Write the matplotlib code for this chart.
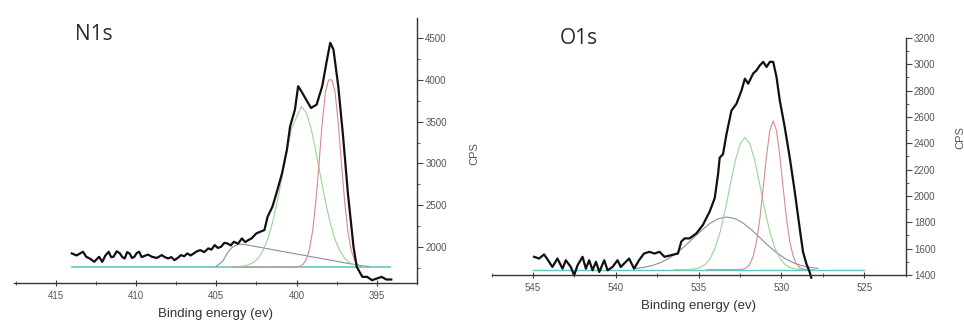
import numpy as np
import matplotlib
matplotlib.use('Agg')
import matplotlib.pyplot as plt
from matplotlib.ticker import MultipleLocator

plt.rcParams['font.family'] = ['Liberation Sans', 'DejaVu Sans']

# ---- N1s data ----
n1s_x = [414.0, 413.7, 413.3, 413.1, 412.85, 412.6, 412.3, 412.1, 411.9, 411.7,
         411.55, 411.4, 411.2, 411.0, 410.85, 410.7, 410.55, 410.4, 410.25, 410.1,
         409.95, 409.8, 409.65, 409.5, 409.25, 409.0, 408.7, 408.4, 408.2, 408.0,
         407.8, 407.6, 407.4, 407.2, 407.0, 406.8, 406.6, 406.4, 406.2, 406.0,
         405.75, 405.5, 405.3, 405.1, 404.9, 404.7, 404.5, 404.3, 404.1, 403.9,
         403.65, 403.4, 403.2, 403.0, 402.8, 402.5, 402.0, 401.8, 401.5, 401.25,
         400.9, 400.6, 400.4, 400.1, 399.9, 399.7, 399.4, 399.1, 398.75, 398.4,
         398.1, 397.9, 397.7, 397.4, 397.1, 396.8, 396.45, 396.25, 395.9, 395.6,
         395.3, 395.0, 394.7, 394.4, 394.1]
n1s_y = [1924, 1900, 1944, 1884, 1860, 1824, 1884, 1824, 1900, 1944,
         1880, 1884, 1950, 1924, 1880, 1864, 1940, 1924, 1870, 1884,
         1930, 1944, 1880, 1892, 1910, 1884, 1870, 1904, 1880, 1864,
         1880, 1844, 1870, 1904, 1890, 1924, 1900, 1924, 1950, 1964,
         1940, 1984, 1970, 2024, 1990, 2004, 2050, 2044, 2020, 2064,
         2040, 2104, 2060, 2084, 2104, 2164, 2204, 2364, 2484, 2644,
         2884, 3164, 3444, 3644, 3924, 3864, 3764, 3664, 3704, 3924,
         4244, 4444, 4364, 3924, 3324, 2644, 2004, 1764, 1644, 1644,
         1604, 1624, 1644, 1612, 1612]

n1s_base_x = [414.0, 394.2]
n1s_base_y = [1760, 1760]

n1s_red_x = [404.0, 400.0, 399.8, 399.6, 399.4, 399.2, 399.0, 398.8, 398.6, 398.4,
             398.2, 398.0, 397.8, 397.6, 397.4, 397.2, 397.0, 396.8, 396.6,
             396.4, 396.2, 396.0]
n1s_red_y = [1760, 1763, 1770, 1792, 1848, 1967, 2188, 2537, 2996, 3480,
             3857, 4000, 4000, 3857, 3480, 2996, 2537, 2188, 1967,
             1848, 1792, 1770]

n1s_green_x = [404.5, 403.7, 403.2, 402.7, 402.4, 402.1, 401.8, 401.5, 401.2, 400.9,
               400.6, 400.3, 399.7, 399.4, 399.1, 398.8, 398.5, 398.2, 397.9,
               397.6, 397.3, 397.0, 396.7, 396.2, 395.7]
n1s_green_y = [1760, 1762, 1775, 1813, 1865, 1954, 2091, 2288, 2544, 2841,
               3150, 3424, 3680, 3612, 3424, 3150, 2841, 2544, 2288,
               2091, 1954, 1865, 1813, 1775, 1762]

n1s_gray_x = [405.0, 404.6, 404.3, 404.0, 403.6, 403.2, 402.5, 401.5, 400.5, 399.5,
              398.5, 397.5, 396.5, 396.0, 395.5]
n1s_gray_y = [1770, 1830, 1930, 2000, 2035, 2030, 2005, 1970, 1935, 1900,
              1865, 1830, 1795, 1778, 1768]

# ---- O1s data ----
o1s_x = [544.94, 544.64, 544.33, 544.03, 543.83, 543.53, 543.22, 543.02, 542.72, 542.52,
         542.31, 542.01, 541.81, 541.61, 541.41, 541.2, 541.0, 540.7, 540.5, 540.2,
         539.9, 539.7, 539.5, 539.2, 538.9, 538.6, 538.3, 537.97, 537.67, 537.36,
         537.06, 536.65, 536.25, 536.05, 535.85, 535.55, 535.14, 534.74, 534.33, 534.03,
         533.83, 533.73, 533.53, 533.32, 533.02, 532.72, 532.41, 532.21, 532.01, 531.71,
         531.5, 531.3, 531.1, 530.9, 530.7, 530.5, 530.3, 530.1, 529.8, 529.5,
         529.2, 528.9, 528.7, 528.5, 528.3, 528.2]
o1s_y = [1538, 1525, 1556, 1500, 1461, 1525, 1448, 1512, 1461, 1398,
         1474, 1538, 1448, 1512, 1436, 1500, 1423, 1512, 1436, 1461,
         1512, 1461, 1487, 1525, 1448, 1512, 1563, 1576, 1563, 1576,
         1538, 1551, 1563, 1653, 1678, 1678, 1716, 1781, 1883, 1984,
         2164, 2291, 2317, 2470, 2649, 2700, 2802, 2891, 2853, 2930,
         2955, 2993, 3019, 2980, 3019, 3019, 2904, 2725, 2521, 2291,
         2036, 1755, 1576, 1487, 1423, 1380]

o1s_base_x = [545.0, 525.0]
o1s_base_y = [1440, 1440]

o1s_red_x = [534.5, 532.5, 532.3, 532.1, 531.9, 531.7, 531.5, 531.3, 531.1, 530.9,
             530.7, 530.5, 530.3, 530.1, 529.9, 529.7, 529.5, 529.3, 529.1,
             528.9, 528.7, 528.5]
o1s_red_y = [1440, 1442, 1445, 1456, 1484, 1545, 1656, 1832, 2064, 2308,
             2498, 2570, 2498, 2308, 2064, 1832, 1656, 1545, 1484,
             1456, 1445, 1442]

o1s_green_x = [536.5, 535.7, 535.2, 534.9, 534.6, 534.3, 534.0, 533.7, 533.4, 533.1,
               532.8, 532.5, 532.2, 531.9, 531.6, 531.3, 531.0, 530.7, 530.4,
               530.1, 529.8, 529.5, 529.2, 528.7, 528.0]
o1s_green_y = [1440, 1441, 1447, 1457, 1481, 1527, 1606, 1728, 1891, 2080,
               2262, 2395, 2444, 2395, 2262, 2080, 1891, 1728, 1606,
               1527, 1481, 1457, 1447, 1441, 1440]

o1s_gray_x = [538.8, 538.3, 537.8, 537.3, 536.8, 536.3, 535.8, 535.3, 534.8, 534.3,
              533.8, 533.3, 532.8, 532.3, 531.8, 531.3, 530.8, 530.3, 529.8,
              529.3, 528.8, 528.3, 527.8]
o1s_gray_y = [1449, 1458, 1472, 1494, 1526, 1570, 1623, 1683, 1742, 1793,
              1828, 1840, 1828, 1793, 1742, 1683, 1623, 1570, 1526,
              1494, 1472, 1458, 1449]

C_RED = '#d98a8a'
C_GREEN = '#9ad49a'
C_GRAY = '#8c8ca6'
C_CYAN = '#5fc9c0'
TXT = '#555555'

W, H = 964, 322
fig = plt.figure(figsize=(W / 100, H / 100), dpi=100)


def style(ax, ymaj, ymin, xmaj=5, xmin=2.5):
    for s in ['top', 'left']:
        ax.spines[s].set_visible(False)
    for s in ['bottom', 'right']:
        ax.spines[s].set_color('#333333')
        ax.spines[s].set_linewidth(1.0)
    ax.yaxis.tick_right()
    ax.xaxis.set_major_locator(MultipleLocator(xmaj))
    ax.xaxis.set_minor_locator(MultipleLocator(xmin))
    ax.yaxis.set_major_locator(MultipleLocator(ymaj))
    ax.yaxis.set_minor_locator(MultipleLocator(ymin))
    ax.tick_params(axis='x', which='both', direction='inout', colors='#444444',
                   labelcolor=TXT, labelsize=7, pad=3)
    ax.tick_params(axis='x', which='major', length=5)
    ax.tick_params(axis='x', which='minor', length=3)
    ax.tick_params(axis='y', which='both', direction='out', colors='#444444',
                   labelcolor=TXT, labelsize=7, pad=2)
    ax.tick_params(axis='y', which='major', length=4)
    ax.tick_params(axis='y', which='minor', length=2)
    ax.set_facecolor('none')


# N1s panel
ax1 = fig.add_axes([0.0145, 0.121, 0.418, 0.823])
ax1.plot(n1s_base_x, n1s_base_y, color=C_CYAN, lw=1.2)
ax1.plot(n1s_gray_x, n1s_gray_y, color=C_GRAY, lw=0.8)
ax1.plot(n1s_green_x, n1s_green_y, color=C_GREEN, lw=0.8)
ax1.plot(n1s_red_x, n1s_red_y, color=C_RED, lw=0.8)
ax1.plot(n1s_x, n1s_y, color='#111111', lw=1.6)
ax1.set_xlim(417.6, 392.5)
ax1.set_ylim(1570, 4740)
style(ax1, 500, 250)
ax1.set_xlabel('Binding energy (ev)', fontsize=9.5, color='#333333', labelpad=5)
ax1.set_ylabel('CPS', fontsize=8, color=TXT, rotation=90)
ax1.yaxis.set_label_position('right')
ax1.yaxis.set_label_coords(1.13, 0.49)
fig.text(75 / W, 1 - 34 / H, 'N1s', fontsize=15, family='Open Sans',
         color='#2a2a2a', va='center')

# O1s panel
ax2 = fig.add_axes([0.510, 0.146, 0.4295, 0.736])
ax2.plot(o1s_base_x, o1s_base_y, color=C_CYAN, lw=1.0)
ax2.plot(o1s_gray_x, o1s_gray_y, color=C_GRAY, lw=0.8)
ax2.plot(o1s_green_x, o1s_green_y, color=C_GREEN, lw=0.8)
ax2.plot(o1s_red_x, o1s_red_y, color=C_RED, lw=0.8)
ax2.plot(o1s_x, o1s_y, color='#111111', lw=1.6, clip_on=False)
ax2.set_xlim(547.5, 522.5)
ax2.set_ylim(1400, 3200)
style(ax2, 200, 100)
ax2.set_xlabel('Binding energy (ev)', fontsize=9.5, color='#333333', labelpad=5)
ax2.set_ylabel('CPS', fontsize=8, color=TXT, rotation=90)
ax2.yaxis.set_label_position('right')
ax2.yaxis.set_label_coords(1.12, 0.58)
fig.text(560 / W, 1 - 38 / H, 'O1s', fontsize=15, family='Open Sans',
         color='#2a2a2a', va='center')

fig.savefig('out.png', dpi=100)
